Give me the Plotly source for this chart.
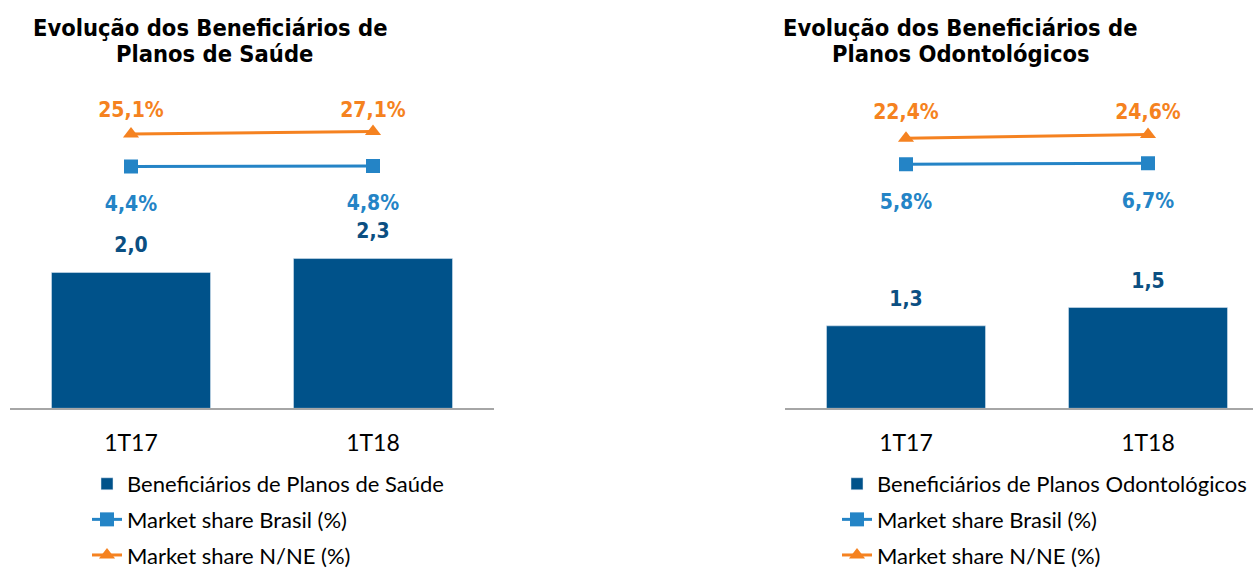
import plotly.graph_objects as go
from decimal import Decimal, ROUND_HALF_UP

# ---------------- data ----------------
categories = ["1T17", "1T18"]

saude_benef = [2.04, 2.25]          # milhões (rótulos 2,0 / 2,3)
saude_brasil = [4.4, 4.8]           # %
saude_nne = [25.1, 27.1]            # %

odonto_benef = [1.26, 1.54]         # milhões (rótulos 1,3 / 1,5)
odonto_brasil = [5.8, 6.7]          # %
odonto_nne = [22.4, 24.6]           # %

title_saude = ["Evolução dos Beneficiários de", "Planos de Saúde"]
title_odonto = ["Evolução dos Beneficiários de", "Planos Odontológicos"]
legend_saude = "Beneficiários de Planos de Saúde"
legend_odonto = "Beneficiários de Planos Odontológicos"
legend_brasil = "Market share Brasil (%)"
legend_nne = "Market share N/NE (%)"

# ---------------- styles ----------------
BAR = "#00528A"
BAR_LBL = "#0B4F82"
BLUE = "#2484C6"
ORANGE = "#F58220"
LBL_FONT = "DejaVu Sans Condensed, DejaVu Sans"
TXT_FONT = "Lato"
LBL_SIZE = 21

W, H = 1253, 576


def fx(px):      # page x -> paper fraction
    return px / W


def fy(py):      # page y -> paper fraction
    return 1 - py / H


def fmt1(v, suffix=""):
    d = Decimal(str(v)).quantize(Decimal("0.1"), rounding=ROUND_HALF_UP)
    return f"{d}".replace(".", ",") + suffix


fig = go.Figure()
pad_marker = dict(color="rgba(0,0,0,0)", line=dict(width=0))


def panel(xa, ybar, ynne, ybr, benef, brasil, nne, bar_name, legend_id,
          bar_pad, br_pad, nne_pad):
    fig.add_trace(go.Bar(
        x=categories, y=benef, name=bar_name, marker_color=BAR,
        xaxis=xa, yaxis=ybar, legend=legend_id, legendgroup="a",
        hoverinfo="skip"))
    fig.add_trace(go.Scatter(
        x=categories, y=benef, mode="markers+text",
        text=[fmt1(v) for v in benef],
        textposition="top center",
        textfont=dict(family=LBL_FONT, size=LBL_SIZE, color=BAR_LBL, weight="bold"),
        marker=dict(size=bar_pad, **pad_marker),
        xaxis=xa, yaxis=ybar, showlegend=False, hoverinfo="skip"))
    fig.add_trace(go.Scatter(
        x=categories, y=brasil, name=legend_brasil, mode="lines+markers",
        line=dict(color=BLUE, width=3),
        marker=dict(symbol="square", size=14, color=BLUE),
        xaxis=xa, yaxis=ybr, legend=legend_id, legendgroup="b"))
    fig.add_trace(go.Scatter(
        x=categories, y=brasil, mode="markers+text",
        text=[fmt1(v, "%") for v in brasil],
        textposition="bottom center",
        textfont=dict(family=LBL_FONT, size=LBL_SIZE, color=BLUE, weight="bold"),
        marker=dict(size=br_pad, **pad_marker),
        xaxis=xa, yaxis=ybr, showlegend=False, hoverinfo="skip"))
    fig.add_trace(go.Scatter(
        x=categories, y=nne, name=legend_nne, mode="lines+markers",
        line=dict(color=ORANGE, width=3),
        marker=dict(symbol="triangle-up", size=14, color=ORANGE),
        xaxis=xa, yaxis=ynne, legend=legend_id, legendgroup="c"))
    fig.add_trace(go.Scatter(
        x=categories, y=nne, mode="markers+text",
        text=[fmt1(v, "%") for v in nne],
        textposition="top center",
        textfont=dict(family=LBL_FONT, size=LBL_SIZE, color=ORANGE, weight="bold"),
        marker=dict(size=nne_pad, **pad_marker),
        xaxis=xa, yaxis=ynne, showlegend=False, hoverinfo="skip"))


panel("x", "y", "y2", "y3", saude_benef, saude_brasil, saude_nne, legend_saude, "legend",
      23, 43.6, [16.7, 12.4])
panel("x2", "y4", "y5", "y6", odonto_benef, odonto_brasil, odonto_nne, legend_odonto, "legend2",
      21, 44.8, [21.5, 15.1])

ydom = [fy(418.5), fy(98.5)]
hidden = dict(visible=False, showgrid=False, zeroline=False, fixedrange=True)
xcommon = dict(type="category", showgrid=False, zeroline=False, showline=True,
               linecolor="#A6A6A6", linewidth=2, ticks="", ticklabelstandoff=13,
               tickfont=dict(family=TXT_FONT, size=23, color="#000000"))

legend_common = dict(xanchor="left", yanchor="top", traceorder="grouped",
                     tracegroupgap=4, bgcolor="rgba(0,0,0,0)",
                     font=dict(family=TXT_FONT, size=22, color="#000000"))

title_font = dict(family=LBL_FONT, size=23.5, color="#000000", weight="bold")
annotations = []
for lines, xs in ((title_saude, (210.5, 214)), (title_odonto, (960.5, 961))):
    for txt, xc, yc in zip(lines, xs, (29, 55)):
        annotations.append(dict(text=txt, x=fx(xc), y=fy(yc), xref="paper", yref="paper",
                                xanchor="center", yanchor="middle", showarrow=False,
                                height=26, font=title_font))

fig.update_layout(
    width=W, height=H, autosize=False,
    margin=dict(l=0, r=0, t=0, b=0),
    paper_bgcolor="white", plot_bgcolor="white",
    bargap=0.343,
    xaxis=dict(domain=[fx(10), fx(494)], range=[-0.5, 1.5], anchor="y", **xcommon),
    xaxis2=dict(domain=[fx(785), 1.0], range=[-0.5, -0.5 + (W - 785) / 242], anchor="y4", **xcommon),
    yaxis=dict(domain=ydom, range=[0, 4.69], anchor="x", **hidden),
    yaxis2=dict(domain=ydom, range=[-191.2, 55.0], overlaying="y", anchor="x", **hidden),
    yaxis3=dict(domain=ydom, range=[-137.2, 45.66], overlaying="y", anchor="x", **hidden),
    yaxis4=dict(domain=ydom, range=[0, 4.77], anchor="x2", **hidden),
    yaxis5=dict(domain=ydom, range=[-129.8, 46.2], overlaying="y4", anchor="x2", **hidden),
    yaxis6=dict(domain=ydom, range=[-219.4, 68.6], overlaying="y4", anchor="x2", **hidden),
    legend=dict(x=fx(87), y=fy(474.5), **legend_common),
    legend2=dict(x=fx(837), y=fy(474.5), **legend_common),
    annotations=annotations,
)

fig.write_html("out.html", config={"displayModeBar": False},
               post_script="document.body.style.margin='0';"
                           "document.body.style.overflow='hidden';")
